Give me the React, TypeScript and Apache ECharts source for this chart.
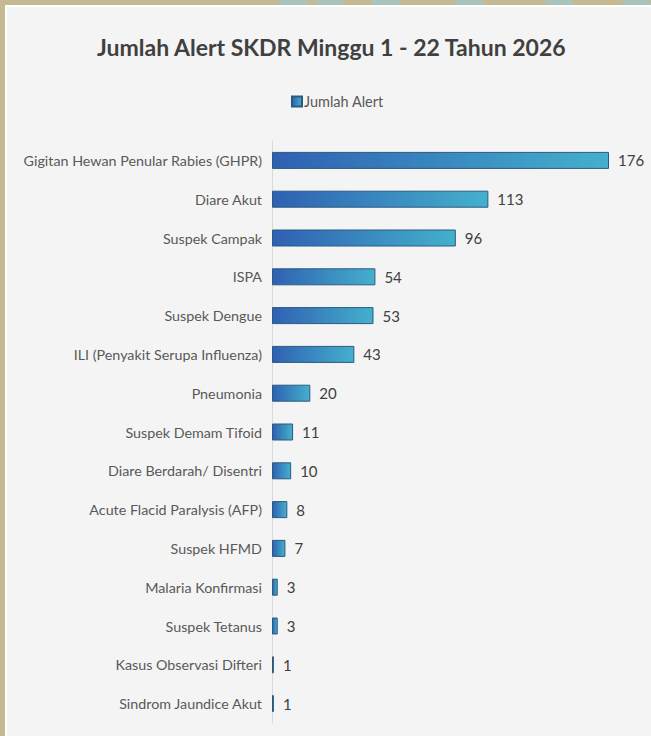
import React, { useEffect, useRef } from "react";
import * as echarts from "echarts";

const categories = [
  "Gigitan Hewan Penular Rabies (GHPR)",
  "Diare Akut",
  "Suspek Campak",
  "ISPA",
  "Suspek Dengue",
  "ILI (Penyakit Serupa Influenza)",
  "Pneumonia",
  "Suspek Demam Tifoid",
  "Diare Berdarah/ Disentri",
  "Acute Flacid Paralysis (AFP)",
  "Suspek HFMD",
  "Malaria Konfirmasi",
  "Suspek Tetanus",
  "Kasus Observasi Difteri",
  "Sindrom Jaundice Akut",
];
const alertValues = [176, 113, 96, 54, 53, 43, 20, 11, 10, 8, 7, 3, 3, 1, 1];
const seriesName = "Jumlah Alert";
const titleText = "Jumlah Alert SKDR Minggu 1 - 22 Tahun 2026";

const stripeStarts = [277, 313, 370, 453, 543, 620];

export default function App() {
  const ref = useRef<HTMLDivElement>(null);
  useEffect(() => {
    if (!ref.current) return;
    const chart = echarts.init(ref.current, undefined, { renderer: "svg" });
    const font = "Lato, 'Open Sans', sans-serif";
    const stripes = stripeStarts.map((x) => ({
      type: "polygon",
      silent: true,
      z: -9,
      shape: { points: [[x, 0], [x + 28, 0], [x + 33, 5], [x + 5, 5]] },
      style: { fill: "#a9c4bb" },
    }));
    chart.setOption({
      animation: false,
      backgroundColor: "#c4b990",
      textStyle: { fontFamily: font },
      graphic: [
        ...stripes,
        {
          type: "rect",
          silent: true,
          z: -10,
          shape: { x: 6, y: 6, width: 646, height: 731 },
          style: { fill: "#f4f4f4", stroke: "#ffffff", lineWidth: 2 },
        },
      ],
      title: {
        text: titleText,
        left: 92,
        top: 30,
        textStyle: { fontFamily: font, fontSize: 23, fontWeight: "bold", color: "#404040" },
      },
      legend: {
        data: [seriesName],
        top: 89,
        left: 286,
        itemWidth: 10,
        itemHeight: 10,
        itemGap: 4,
        icon: "rect",
        textStyle: { fontFamily: font, fontSize: 14.5, color: "#595959", padding: [0, 0, 0, -3] },
      },
      grid: { left: 272, right: 42, top: 141, bottom: 13, containLabel: false },
      xAxis: {
        type: "value",
        min: 0,
        max: "dataMax",
        show: false,
      },
      yAxis: {
        type: "category",
        inverse: true,
        data: categories,
        axisTick: { show: false },
        axisLine: { show: true, lineStyle: { color: "#d9d9d9", width: 1 } },
        axisLabel: { margin: 10, fontFamily: font, fontSize: 14.3, color: "#595959" },
        splitLine: { show: false },
      },
      series: [
        {
          name: seriesName,
          type: "bar",
          data: alertValues,
          barWidth: 17,
          itemStyle: {
            color: new echarts.graphic.LinearGradient(0, 0, 1, 0, [
              { offset: 0, color: "#2f60b2" },
              { offset: 1, color: "#44b0cc" },
            ]),
            borderColor: "#2b5a80",
            borderWidth: 1,
          },
          label: {
            show: true,
            position: "right",
            distance: 9,
            fontFamily: font,
            fontSize: 15,
            color: "#404040",
          },
        },
      ],
    });
    return () => chart.dispose();
  }, []);
  return (
    <div
      ref={ref}
      style={{ position: "fixed", left: 0, top: 0, width: 651, height: 736 }}
    />
  );
}
